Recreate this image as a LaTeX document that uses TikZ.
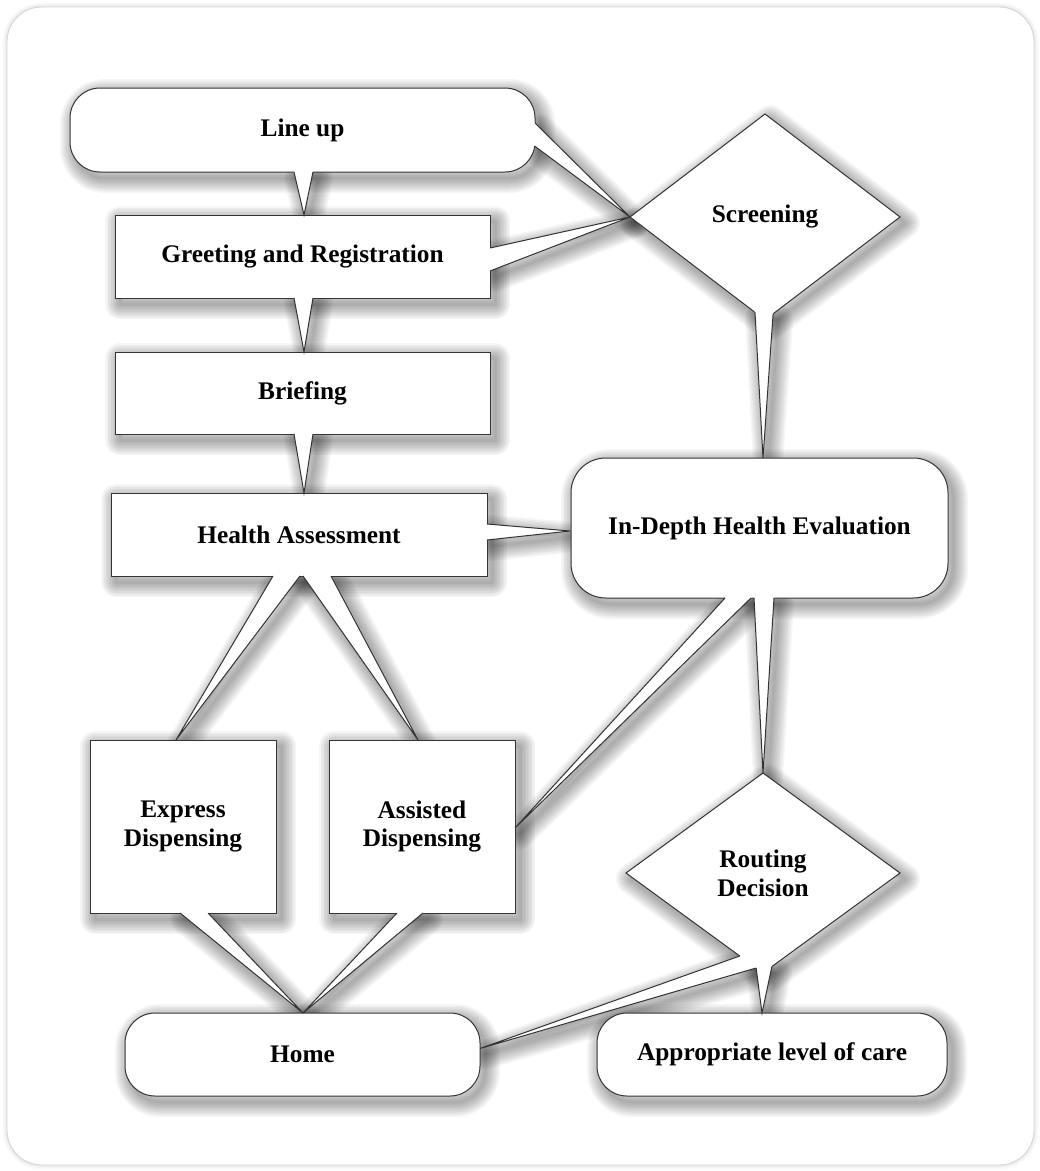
\documentclass[tikz,border=0pt]{standalone}
\usepackage{fontspec}
\setmainfont{Liberation Serif}
\usetikzlibrary{shapes.geometric,calc}
\pgfdeclarelayer{bg}
\pgfdeclarelayer{background}
\pgfsetlayers{bg,background,main}
% soft shadow built from stacked translucent strokes
\newcommand\shad[2][]{%
  \begin{pgfonlayer}{background}
    \begin{scope}[transform canvas={shift={(5,6)}}]
    \foreach \w in {1,...,10}{%
      \path[shadowstroke, line width=\w*2.25pt, #1] #2;}
    \end{scope}
  \end{pgfonlayer}}
\newcommand\wconn[3]{%
  \shad{(#1) -- (#3) -- (#2) -- cycle}
  \fill[white] ($(#1)!-2pt!(#3)$) -- (#1) -- (#3) -- (#2) -- ($(#2)!-2pt!(#3)$) -- cycle;
  \draw[wline] (#1) -- (#3) -- (#2);}
\newcommand\boxshad[2]{\shad[rounded corners=#2]{(#1.south west) rectangle (#1.north east)}}
\newcommand\diashad[1]{\shad{(#1.north) -- (#1.east) -- (#1.south) -- (#1.west) -- cycle}}
\begin{document}
\begin{tikzpicture}[x=0.75pt,y=-0.75pt,
  sz/.style 2 args={minimum width=#1*0.75pt, minimum height=#2*0.75pt},
  shadowstroke/.style={draw=black, draw opacity=0.034, line join=round},
  box/.style={draw=black!80, line width=0.75pt, fill=white, outer sep=0pt, inner sep=1pt,
    font=\bfseries\fontsize{19}{21.5}\selectfont, align=center},
  rbox/.style={box, rectangle},
  rnd/.style={box, rectangle, rounded corners=#1},
  dia/.style={box, diamond},
  wline/.style={draw=black!80, line width=0.75pt, line join=miter},
  frame/.style={draw=black!16, line width=0.7pt, fill=white, rounded corners=26pt}]
\useasboundingbox (0,0) rectangle (1039,1171);
\begin{pgfonlayer}{bg}
  \foreach \w in {1,...,4}{\draw[black, draw opacity=0.018, line width=\w*1.6pt, rounded corners=26pt] (7,7) rectangle (1034,1165);}
  \path[frame] (7,7) rectangle (1034,1165);
\end{pgfonlayer}

% nodes
\node[rnd=22.5pt, sz={465}{84}] (lineup) at (302.5,130) {Line up};
\node[rbox, sz={375}{83}] (greet) at (302.5,256.5) {Greeting and Registration};
\node[rbox, sz={375}{82}] (brief) at (302.5,393) {Briefing};
\node[rbox, sz={376}{83}] (health) at (299,534.5) {Health Assessment};
\node[dia, sz={270}{206}] (screen) at (765,217) {Screening};
\node[rnd=26pt, sz={377}{140}] (indepth) at (759.5,528) {In-Depth Health Evaluation};
\node[rbox, sz={186}{173}] (express) at (183,826.5) {Express\\Dispensing};
\node[rbox, sz={186}{173}] (assisted) at (422,826.5) {Assisted\\Dispensing};
\node[dia, sz={274}{200}] (routing) at (763,873) {Routing\\Decision};
\node[rnd=22.5pt, sz={355}{83}] (home) at (302.5,1054.5) {Home};
\node[rnd=22.5pt, sz={350}{83}] (care) at (772,1054.5) {Appropriate level of care};

% node shadows
\boxshad{lineup}{22.5pt}
\boxshad{greet}{0pt}
\boxshad{brief}{0pt}
\boxshad{health}{0pt}
\boxshad{indepth}{26pt}
\boxshad{express}{0pt}
\boxshad{assisted}{0pt}
\boxshad{home}{22.5pt}
\boxshad{care}{22.5pt}
\diashad{screen}
\diashad{routing}

% connector points
\coordinate (a1) at ($(lineup.south)+(-8.5,0)$);
\coordinate (a2) at ($(lineup.south)+(10.5,0)$);
\coordinate (at) at ($(greet.north)+(1.5,0)$);
\coordinate (b1) at ($(greet.south)+(-8.5,0)$);
\coordinate (b2) at ($(greet.south)+(10.5,0)$);
\coordinate (bt) at ($(brief.north)+(1.5,0)$);
\coordinate (c1) at ($(brief.south)+(-8.5,0)$);
\coordinate (c2) at ($(brief.south)+(10.5,0)$);
\coordinate (ct) at ($(health.north)+(5,0)$);
\coordinate (d1) at ($(lineup.east)+(0,-7)$);
\coordinate (d2) at ($(lineup.east)+(-0.5,16)$);
\coordinate (e1) at ($(greet.east)+(0,-8.5)$);
\coordinate (e2) at ($(greet.east)+(0,14.5)$);
\coordinate (f1) at ($(screen.south)!0.074!(screen.west)$);
\coordinate (f2) at ($(screen.south)!0.06!(screen.east)$);
\coordinate (ft) at ($(indepth.north)+(3.5,0)$);
\coordinate (g1) at ($(health.east)+(0,-10.5)$);
\coordinate (g2) at ($(health.east)+(0,5.5)$);
\coordinate (gt) at ($(indepth.west)+(-1,3)$);
\coordinate (h1) at ($(health.south)+(-26,0)$);
\coordinate (h2) at ($(health.south)+(1,0)$);
\coordinate (ht) at ($(express.north)+(-7,0)$);
\coordinate (i1) at ($(health.south)+(4,0)$);
\coordinate (i2) at ($(health.south)+(32,0)$);
\coordinate (it) at ($(assisted.north)+(-4,0)$);
\coordinate (j1) at ($(indepth.south)+(-34.5,0)$);
\coordinate (j2) at ($(indepth.south)+(-8.5,0)$);
\coordinate (jt) at ($(assisted.east)+(0,1.5)$);
\coordinate (k1) at ($(indepth.south)+(-5.5,0)$);
\coordinate (k2) at ($(indepth.south)+(14.5,0)$);
\coordinate (l1) at ($(express.south)+(-3,0)$);
\coordinate (l2) at ($(express.south)+(25,0)$);
\coordinate (lt) at ($(home.north)+(0.5,0)$);
\coordinate (m1) at ($(assisted.south)+(-25,0)$);
\coordinate (m2) at ($(assisted.south)+(1,0)$);
\coordinate (n1) at ($(routing.south)!0.17!(routing.west)$);
\coordinate (n2) at ($(routing.south)!0.05!(routing.west)$);
\coordinate (nt) at ($(home.east)+(0,-6)$);
\coordinate (o2) at ($(routing.south)!0.065!(routing.east)$);
\coordinate (ot) at ($(care.north)+(-10,0)$);

% connectors
\wconn{a1}{a2}{at}
\wconn{b1}{b2}{bt}
\wconn{c1}{c2}{ct}
\wconn{d1}{d2}{screen.west}
\wconn{e1}{e2}{screen.west}
\wconn{f1}{f2}{ft}
\wconn{g1}{g2}{gt}
\wconn{h1}{h2}{ht}
\wconn{i1}{i2}{it}
\wconn{j1}{j2}{jt}
\wconn{k1}{k2}{routing.north}
\wconn{l1}{l2}{lt}
\wconn{m1}{m2}{lt}
\wconn{n1}{n2}{nt}
\wconn{n2}{o2}{ot}
\end{tikzpicture}
\end{document}
